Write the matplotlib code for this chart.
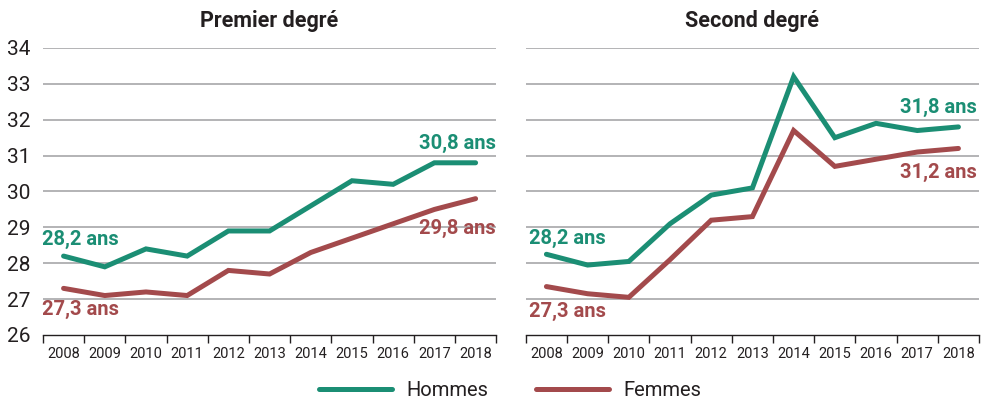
import matplotlib
matplotlib.use("Agg")
import matplotlib.pyplot as plt
import numpy as np

plt.rcParams['font.family'] = ['Roboto', 'DejaVu Sans']

years = ["2008", "2009", "2010", "2011", "2012", "2013", "2014", "2015", "2016", "2017", "2018"]
premier_hommes = [28.2, 27.9, 28.4, 28.2, 28.9, 28.9, 29.6, 30.3, 30.2, 30.8, 30.8]
premier_femmes = [27.3, 27.1, 27.2, 27.1, 27.8, 27.7, 28.3, 28.7, 29.1, 29.5, 29.8]
second_hommes = [28.25, 27.95, 28.05, 29.1, 29.9, 30.1, 33.2, 31.5, 31.9, 31.7, 31.8]
second_femmes = [27.35, 27.15, 27.05, 28.1, 29.2, 29.3, 31.7, 30.7, 30.9, 31.1, 31.2]
titles = ["Premier degré", "Second degré"]
series_names = ["Hommes", "Femmes"]
labels_premier = ["28,2 ans", "27,3 ans", "30,8 ans", "29,8 ans"]
labels_second = ["28,2 ans", "27,3 ans", "31,8 ans", "31,2 ans"]

GREEN = "#1b8e74"
RED = "#a34a4c"
DARK = "#231f20"
GRID = "#a7a7a9"

fig = plt.figure(figsize=(9.81, 4.01), dpi=100)
ax1 = fig.add_axes([0.0438, 0.1646, 0.462, 0.7157])
ax2 = fig.add_axes([0.536, 0.1646, 0.462, 0.7157])

x = np.arange(len(years))

panels = [
    (ax1, premier_hommes, premier_femmes, labels_premier,
     [(0.41, 28.65), (0.40, 26.70), (9.55, 31.35), (9.55, 28.96)]),
    (ax2, second_hommes, second_femmes, labels_second,
     [(0.52, 28.68), (0.52, 26.65), (9.52, 32.33), (9.52, 30.52)]),
]

for i, (ax, h, f, labs, pos) in enumerate(panels):
    ax.set_xlim(-0.5, len(years) - 0.5)
    ax.set_ylim(26, 34)
    for yv in range(27, 35):
        ax.axhline(yv, color=GRID, lw=1.2, zorder=1)
    ax.plot(x, h, color=GREEN, lw=3.6, solid_capstyle='round', solid_joinstyle='miter', zorder=3, label=series_names[0])
    ax.plot(x, f, color=RED, lw=3.6, solid_capstyle='round', solid_joinstyle='miter', zorder=3, label=series_names[1])
    for spine in ["top", "right", "left"]:
        ax.spines[spine].set_visible(False)
    ax.spines["bottom"].set_color(DARK)
    ax.spines["bottom"].set_linewidth(1.0)
    ax.set_xticks(np.arange(-0.5, len(years), 1.0))
    ax.set_xticklabels([])
    ax.set_xticks(x, minor=True)
    ax.set_xticklabels(years, minor=True, fontsize=10.5, color=DARK)
    ax.tick_params(axis='x', which='major', length=6, width=1.0, color=DARK, direction='out')
    ax.tick_params(axis='x', which='minor', length=0, pad=9)
    ax.set_yticks(range(26, 35))
    if i == 0:
        ax.set_yticklabels([str(v) for v in range(26, 35)], fontsize=15, color=DARK)
        ax.tick_params(axis='y', length=0, pad=9)
    else:
        ax.set_yticklabels([])
        ax.tick_params(axis='y', length=0)
    ax.set_title(titles[i], fontsize=15.5, fontweight='bold', color=DARK, pad=15)
    cols = [GREEN, RED, GREEN, RED]
    for lab, (px, py), c in zip(labs, pos, cols):
        ax.text(px, py, lab, color=c, fontsize=14.5, fontweight='bold', ha='center', va='center', zorder=4)

handles, lbls = ax1.get_legend_handles_labels()
leg = fig.legend(handles, lbls, loc='center', bbox_to_anchor=(0.52, 0.025), ncol=2, frameon=False,
                 fontsize=14.5, handlelength=3.6, handletextpad=0.7, columnspacing=2.4)
for t in leg.get_texts():
    t.set_color(DARK)
for lh in leg.get_lines():
    lh.set_linewidth(3.6)

fig.savefig("out.png", dpi=100)
